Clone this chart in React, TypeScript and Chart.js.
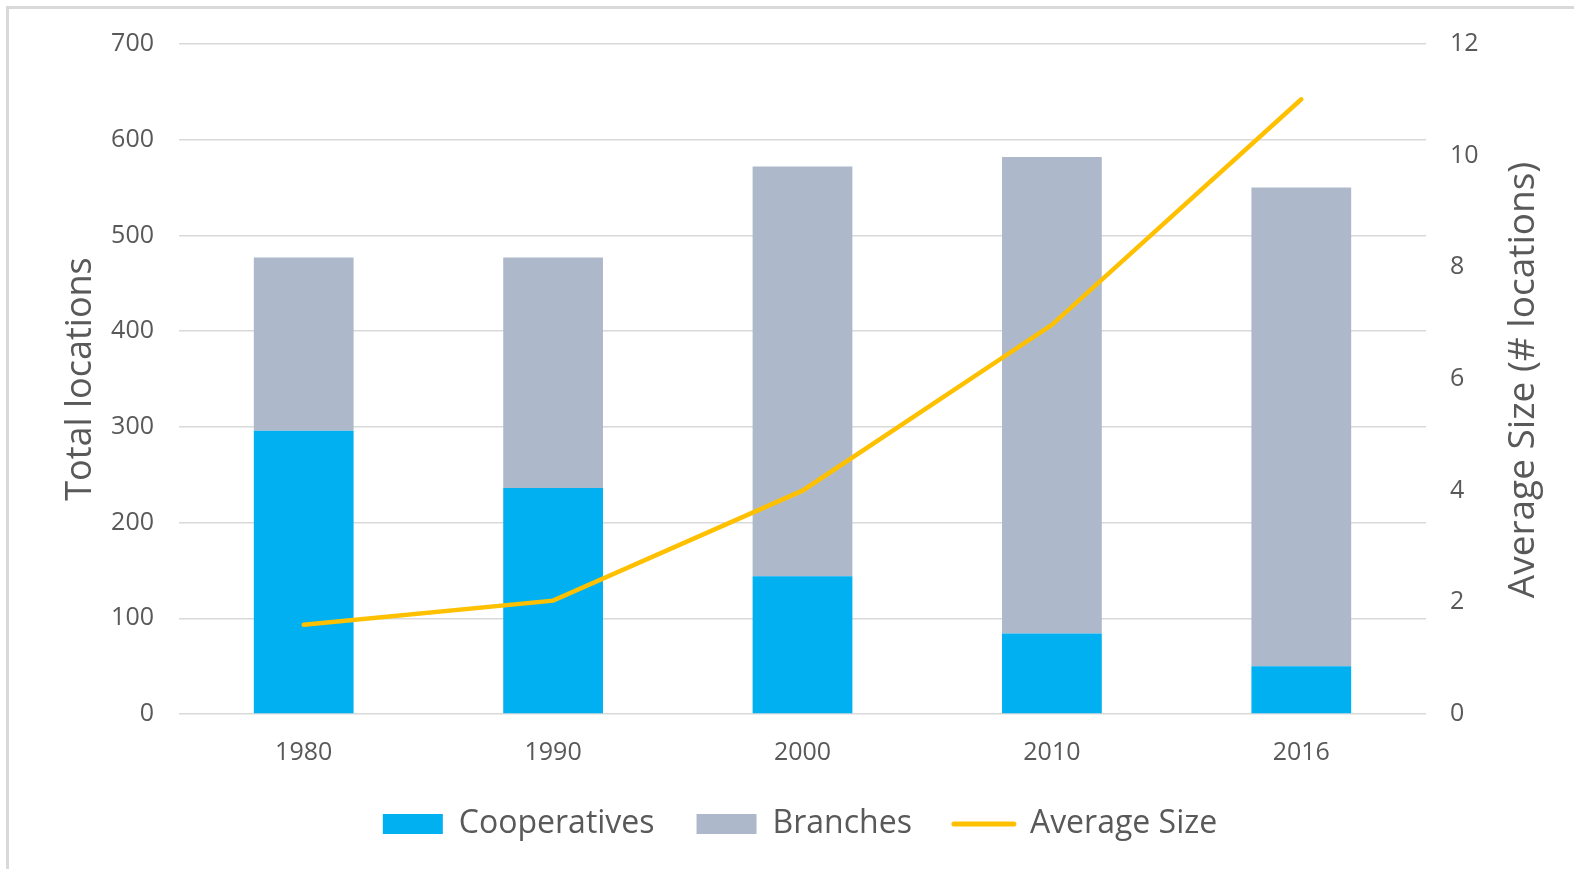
import React, { useEffect, useRef } from "react";
import { Chart, registerables } from "chart.js";

Chart.register(...registerables);

const years = ["1980", "1990", "2000", "2010", "2016"];
const cooperatives = [296, 236, 144, 84, 50];
const branches = [181, 241, 428, 498, 500];
const averageSize = [1.6, 2.03, 4.0, 6.97, 11.01];

const leftTicks = [0, 100, 200, 300, 400, 500, 600, 700];
const rightTicks = [0, 2, 4, 6, 8, 10, 12];

const leftTitle = "Total locations";
const rightTitle = "Average Size (# locations)";

const FONT = "'Open Sans', 'Noto Sans', sans-serif";
const TEXT = "#595959";

const rightTitlePlugin = {
  id: "rightTitle",
  afterDraw(chart: any) {
    const { ctx, chartArea } = chart;
    ctx.save();
    ctx.fillStyle = TEXT;
    ctx.font = `37px ${FONT}`;
    ctx.textAlign = "center";
    ctx.textBaseline = "middle";
    ctx.translate(chartArea.right + 97, (chartArea.top + chartArea.bottom) / 2 + 1);
    ctx.rotate(-Math.PI / 2);
    ctx.fillText(rightTitle, 0, 0);
    ctx.restore();
  },
};

export default function App() {
  const ref = useRef<HTMLCanvasElement | null>(null);

  useEffect(() => {
    if (!ref.current) return;
    const chart = new Chart(ref.current, {
      type: "bar",
      data: {
        labels: years,
        datasets: [
          {
            type: "line",
            label: "Average Size",
            data: averageSize,
            borderColor: "#FFC000",
            backgroundColor: "#FFC000",
            borderWidth: 4.5,
            borderCapStyle: "round",
            pointRadius: 0,
            tension: 0,
            yAxisID: "y2",
            order: 0,
          } as any,
          {
            label: "Cooperatives",
            data: cooperatives,
            backgroundColor: "#00B0F0",
            borderWidth: 0,
            categoryPercentage: 1,
            barPercentage: 0.4,
            yAxisID: "y",
            order: 1,
          },
          {
            label: "Branches",
            data: branches,
            backgroundColor: "#ADB9CA",
            borderWidth: 0,
            categoryPercentage: 1,
            barPercentage: 0.4,
            yAxisID: "y",
            order: 2,
          },
        ],
      },
      options: {
        animation: false,
        responsive: false,
        maintainAspectRatio: false,
        layout: { padding: { left: 46, right: 20, top: 44, bottom: 19 } },
        plugins: {
          tooltip: { enabled: false },
          legend: {
            position: "bottom",
            labels: {
              usePointStyle: true,
              pointStyleWidth: 60,
              boxHeight: 20,
              padding: 42,
              color: TEXT,
              font: { family: FONT, size: 32 },
              sort: (a: any, b: any) => {
                const order = ["Cooperatives", "Branches", "Average Size"];
                return order.indexOf(a.text) - order.indexOf(b.text);
              },
              generateLabels: (c: any) => {
                const items = Chart.defaults.plugins.legend.labels.generateLabels(c);
                return items.map((it: any) => {
                  if (it.text === "Average Size") {
                    return { ...it, pointStyle: "line", lineWidth: 5, strokeStyle: "#FFC000", lineCap: "round" };
                  }
                  return { ...it, pointStyle: "rect", lineWidth: 0 };
                });
              },
            },
          },
        },
        scales: {
          x: {
            stacked: true,
            grid: { display: false },
            border: { display: false },
            ticks: { color: TEXT, font: { family: FONT, size: 25 }, padding: 16 },
            afterFit: (s: any) => {
              s.height = 52;
            },
          },
          y: {
            stacked: true,
            position: "left",
            min: 0,
            max: 700,
            afterBuildTicks: (s: any) => {
              s.ticks = leftTicks.map((v) => ({ value: v }));
            },
            grid: { color: "#D9D9D9", lineWidth: 1.5, drawTicks: false },
            border: { display: false },
            ticks: { color: TEXT, font: { family: FONT, size: 25 }, padding: 25 },
            title: {
              display: true,
              text: leftTitle,
              color: TEXT,
              font: { family: FONT, size: 36 },
              padding: { top: 13, bottom: 0 },
            },
            afterFit: (s: any) => {
              s.width = 133;
            },
          },
          y2: {
            position: "right",
            min: 0,
            max: 12,
            afterBuildTicks: (s: any) => {
              s.ticks = rightTicks.map((v) => ({ value: v }));
            },
            grid: { display: false, drawTicks: false },
            border: { display: false },
            ticks: { color: TEXT, font: { family: FONT, size: 25 }, padding: 24 },
            afterFit: (s: any) => {
              s.width = 128;
            },
          },
        },
      },
      plugins: [rightTitlePlugin],
    });
    return () => chart.destroy();
  }, []);

  return (
    <div
      style={{
        position: "fixed",
        left: 0,
        top: 0,
        width: 1574,
        height: 869,
        background: "#fff",
      }}
    >
      <div
        style={{
          position: "absolute",
          left: 6,
          top: 6,
          right: 0,
          bottom: 0,
          borderLeft: "3px solid #D9D9D9",
          borderTop: "3px solid #D9D9D9",
        }}
      />
      <canvas ref={ref} width={1574} height={869} style={{ position: "absolute", left: 0, top: 0 }} />
    </div>
  );
}
